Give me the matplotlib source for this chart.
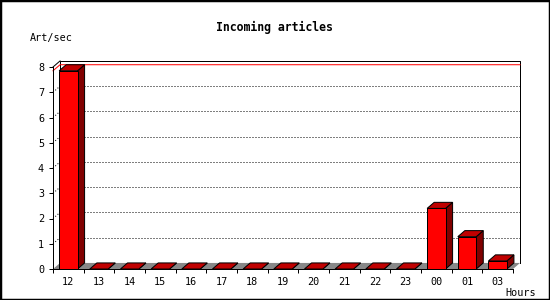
import numpy as np
import matplotlib
matplotlib.use('Agg')
import matplotlib.pyplot as plt
from matplotlib.patches import Rectangle

plt.rcParams['font.family'] = ['DejaVu Sans Mono']

hours = ['12', '13', '14', '15', '16', '17', '18', '19', '20', '21', '22', '23', '00', '01', '03']
rates = [7.85, 0, 0, 0, 0, 0, 0, 0, 0, 0, 0, 0, 2.40, 1.28, 0.32]
y_ticks = [0, 1, 2, 3, 4, 5, 6, 7, 8]

DX, DY = 0.23, 0.24   # depth of the fake 3d
HALF = 0.3            # half bar width
PX = 0.72             # one pixel in points

fig = plt.figure(figsize=(5.5, 3), dpi=100)
ax = fig.add_axes([53 / 550, 31 / 300, 460 / 550, 202 / 300])
n = len(hours)
x0, x1 = -0.5, n - 0.5
top = y_ticks[-1]
ax.set_xlim(x0, x1)
ax.set_ylim(0, top)

# floor
ax.fill([x0, x1, x1 + DX, x0 + DX], [0, 0, DY, DY], facecolor='#888888',
        edgecolor='none', zorder=1, clip_on=False)
# back wall + left wall outline
ax.plot([x0 + DX, x0 + DX, x1 + DX, x1 + DX], [DY, top + DY, top + DY, DY],
        color='k', lw=PX, zorder=2, clip_on=False)
ax.plot([x0, x0 + DX], [top, top + DY], color='k', lw=PX, zorder=2, clip_on=False)

# dotted grid on back wall and left wall
for v in y_ticks[1:-1]:
    ax.plot([x0 + DX, x1 + DX], [v + DY, v + DY], color='k', lw=PX,
            ls=(0, (1, 2)), zorder=2, clip_on=False)
    ax.plot([x0, x0 + DX], [v, v + DY], color='k', lw=PX,
            ls=(0, (1, 2)), zorder=2, clip_on=False)

# max line
peak = max(rates)
ax.plot([x0, x0 + DX, x1 + DX], [peak, peak + DY, peak + DY], color='red',
        lw=PX, zorder=2, clip_on=False)

# bars
for i, v in enumerate(rates):
    l, r = i - HALF, i + HALF
    z = 3 + i * 0.01
    ax.fill([r, r + DX, r + DX, r], [0, DY, v + DY, v], facecolor='#800000',
            edgecolor='k', lw=PX, zorder=z, clip_on=False)
    ax.fill([l, r, r + DX, l + DX], [v, v, v + DY, v + DY], facecolor='#c00000',
            edgecolor='k', lw=PX, zorder=z, clip_on=False)
    if v > 0:
        ax.fill([l, r, r, l], [0, 0, v, v], facecolor='#ff0000',
                edgecolor='k', lw=PX, zorder=z, clip_on=False)

# axes
for s in ['top', 'right']:
    ax.spines[s].set_visible(False)
for s in ['left', 'bottom']:
    ax.spines[s].set_linewidth(PX)
    ax.spines[s].set_zorder(10)
ax.set_xticks(range(n), hours)
ax.set_xticks(np.arange(n + 1) - 0.5, minor=True)
ax.set_yticks(y_ticks)
ax.tick_params(axis='x', which='major', length=0, pad=5.5, labelsize=7.3)
ax.tick_params(axis='x', which='minor', length=2.6, width=PX)
ax.tick_params(axis='y', length=2.6, width=PX, pad=3.8, labelsize=7.3)
ax.patch.set_visible(False)

fig.text(274 / 550, 1 - 27 / 300, 'Incoming articles', ha='center', va='center',
         fontsize=8.3, fontweight='bold')
fig.text(30 / 550, 1 - 37.5 / 300, 'Art/sec', ha='left', va='center', fontsize=7.3)
fig.text(505 / 550, 1 - 292.5 / 300, 'Hours', ha='left', va='center', fontsize=7.3)

fig.patches.append(Rectangle((0, 0), 1, 1, transform=fig.transFigure, fill=False,
                             edgecolor='k', linewidth=2.5))

fig.savefig('out.png', dpi=100)
